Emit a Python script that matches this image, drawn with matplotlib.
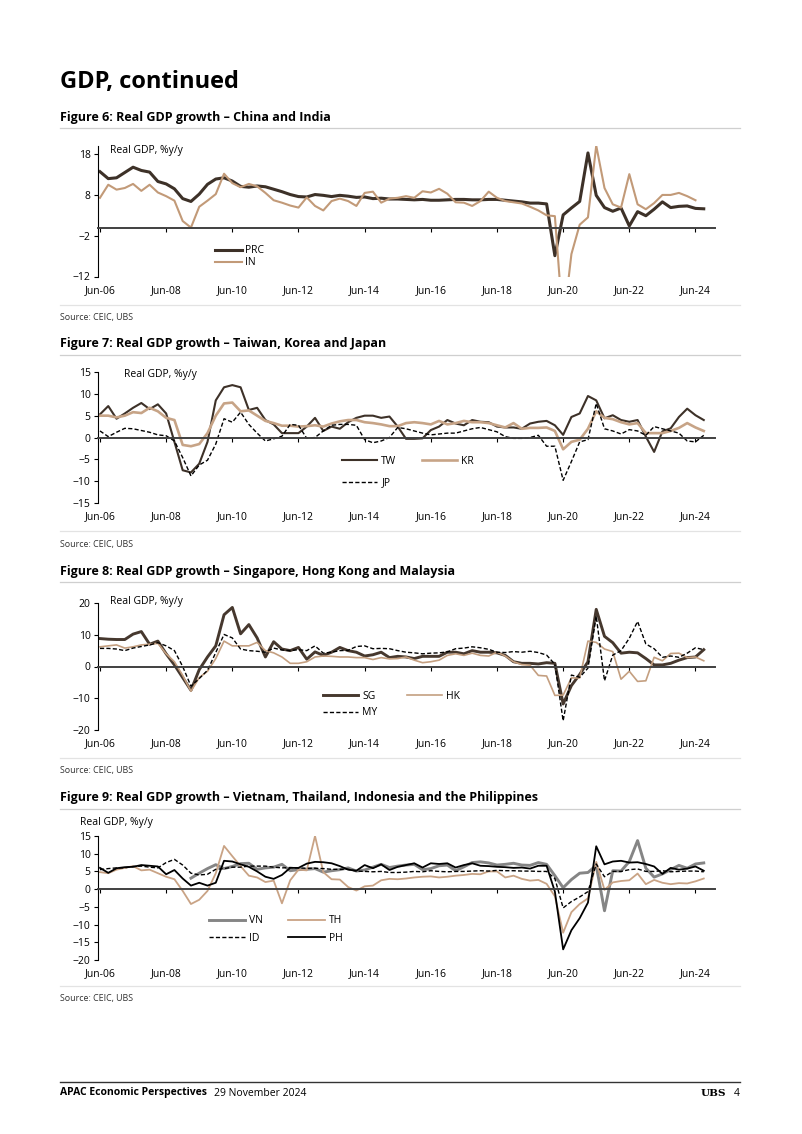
import numpy as np
import matplotlib
matplotlib.use("Agg")
import matplotlib.pyplot as plt

plt.rcParams['font.family'] = ['Open Sans', 'DejaVu Sans']

nan = np.nan

# quarterly, Jun-06 (2006Q2) .. Sep-24 (2024Q3)
tick_labels = ['Jun-06', 'Jun-08', 'Jun-10', 'Jun-12', 'Jun-14',
               'Jun-16', 'Jun-18', 'Jun-20', 'Jun-22', 'Jun-24']

# Figure 6
prc = [13.7, 12.0, 12.2,
       13.5, 14.8, 14.0, 13.6,
       11.3, 10.7, 9.5, 7.1,
       6.4, 8.2, 10.6, 11.9,
       12.2, 11.4, 10.1, 9.9,
       10.2, 10.0, 9.4, 8.8,
       8.1, 7.6, 7.5, 8.1,
       7.9, 7.6, 7.9, 7.7,
       7.4, 7.5, 7.1, 7.2,
       7.0, 7.0, 6.9, 6.8,
       6.9, 6.7, 6.7, 6.8,
       6.9, 6.9, 6.8, 6.8,
       6.9, 6.9, 6.7, 6.5,
       6.3, 6.0, 6.0, 5.8,
       -6.9, 3.1, 4.8, 6.4,
       18.3, 7.9, 4.9, 4.0,
       4.8, 0.4, 3.9, 2.9,
       4.5, 6.3, 4.9, 5.2,
       5.3, 4.7, 4.6]
ind = [7.3, 10.5, 9.3,
       9.7, 10.7, 9.0, 10.5,
       8.6, 7.7, 6.6, 1.6,
       0.0, 5.1, 6.6, 8.2,
       13.2, 10.9, 9.9, 10.7,
       10.1, 8.5, 6.7, 6.1,
       5.4, 4.9, 7.4, 5.3,
       4.2, 6.5, 7.1, 6.5,
       5.3, 8.5, 8.8, 6.1,
       7.1, 7.3, 7.7, 7.3,
       8.9, 8.6, 9.5, 8.3,
       6.2, 6.1, 5.3, 6.5,
       8.8, 7.3, 6.5, 6.2,
       5.9, 5.1, 4.2, 3.0,
       2.8, -24.0, -6.5, 0.7,
       2.5, 20.1, 9.7, 5.7,
       4.9, 13.1, 5.7, 4.5,
       6.0, 8.0, 8.0, 8.5,
       7.7, 6.7, nan]

# Figure 7
tw = [5.3, 7.2, 4.3,
      5.5, 6.8, 7.9, 6.5,
      7.6, 5.5, -1.0, -7.5,
      -8.0, -6.0, -1.0, 8.5,
      11.5, 12.0, 11.5, 6.3,
      6.8, 4.0, 3.0, 1.0,
      1.0, 1.0, 2.5, 4.5,
      1.5, 2.5, 2.0, 3.5,
      4.5, 5.0, 5.0, 4.5,
      4.8, 2.5, -0.3, -0.3,
      -0.2, 1.7, 2.5, 4.0,
      3.2, 2.8, 4.0, 3.6,
      3.5, 2.5, 2.3, 2.3,
      2.0, 3.2, 3.6, 3.8,
      2.8, 0.6, 4.7, 5.5,
      9.5, 8.5, 4.4, 5.1,
      4.0, 3.6, 4.0, 0.2,
      -3.3, 1.4, 2.1, 4.7,
      6.6, 5.1, 4.0]
kr = [5.0, 5.0, 4.6,
      5.0, 5.8, 5.6, 6.8,
      6.0, 4.5, 4.0, -1.7,
      -2.0, -1.5, 1.0, 5.0,
      7.8, 8.0, 6.0, 6.2,
      5.0, 3.8, 3.3, 2.7,
      2.7, 2.5, 2.6, 2.8,
      2.5, 3.2, 3.7, 4.0,
      4.0, 3.5, 3.3, 3.0,
      2.6, 2.6, 3.3, 3.5,
      3.3, 3.0, 3.8, 3.0,
      3.3, 3.8, 3.5, 3.5,
      3.3, 2.8, 2.3, 3.3,
      2.0, 2.2, 2.2, 2.3,
      1.5, -2.7, -1.0, -0.5,
      2.0, 6.0, 4.5, 4.2,
      3.5, 3.0, 3.3, 1.0,
      1.0, 1.0, 1.5, 2.2,
      3.3, 2.3, 1.5]
jp = [1.5, 0.2, 1.2,
      2.1, 2.0, 1.6, 1.2,
      0.6, 0.4, -0.8, -4.6,
      -8.8, -6.3, -5.2, -1.5,
      4.3, 3.5, 5.8, 3.0,
      1.0, -0.8, -0.3, 0.3,
      3.0, 2.8, -0.2, 0.0,
      1.5, 2.8, 3.0, 3.0,
      2.8, -0.5, -1.2, -0.8,
      0.0, 2.3, 2.0, 1.5,
      1.0, 0.6, 0.8, 1.0,
      1.0, 1.5, 2.0, 2.3,
      1.8, 1.3, 0.2, -0.2,
      -0.2, 0.0, 0.5, -2.0,
      -2.0, -9.8, -5.5, -1.0,
      -0.5, 7.8, 2.0, 1.5,
      0.8, 1.8, 1.5, 0.5,
      2.5, 2.0, 1.5, 1.0,
      -0.8, -1.0, 0.5]

# Figure 8
sg = [8.8, 8.6, 8.5,
      8.5, 10.2, 11.0, 7.0,
      8.0, 4.0, 0.5, -3.5,
      -7.5, -1.0, 3.0, 6.5,
      16.3, 18.6, 10.3, 13.2,
      9.0, 3.0, 7.8, 5.5,
      5.0, 6.0, 2.3, 4.6,
      3.5, 4.5, 6.0, 5.0,
      4.5, 3.3, 3.7, 4.5,
      2.8, 3.2, 3.0, 2.5,
      3.2, 3.2, 3.2, 4.5,
      4.5, 4.0, 5.0, 4.5,
      4.5, 4.3, 3.5, 1.5,
      1.0, 1.0, 0.8, 1.2,
      1.0, -11.8, -6.0, -2.5,
      1.5, 18.0, 9.5, 7.5,
      4.2, 4.5, 4.3, 2.5,
      0.5, 0.5, 1.0, 2.0,
      2.8, 3.0, 5.3]
hk = [6.2, 6.5, 6.8,
      5.8, 6.2, 6.8, 7.0,
      7.3, 4.0, 1.5, -2.8,
      -7.8, -3.5, -1.5, 2.5,
      8.0, 6.5, 6.5, 6.5,
      7.6, 5.0, 4.3, 3.0,
      1.0, 1.0, 1.5, 3.0,
      3.3, 3.2, 3.0, 3.0,
      2.8, 2.8, 2.2, 2.8,
      2.4, 2.5, 3.0, 2.0,
      1.2, 1.5, 2.0, 3.5,
      4.0, 3.5, 4.2, 3.5,
      3.3, 4.5, 3.3, 1.5,
      0.6, 0.4, -2.8, -3.0,
      -9.1, -9.0, -3.6, -3.6,
      8.0, 7.6, 5.5, 4.7,
      -4.0, -1.5, -4.7, -4.5,
      2.9, 1.8, 4.1, 4.2,
      2.8, 3.0, 1.8]
my = [5.7, 5.7, 5.5,
      5.0, 5.8, 6.3, 6.8,
      7.5, 6.5, 5.0, 0.0,
      -6.2, -3.8, -1.2, 4.4,
      10.1, 9.0, 5.5, 5.0,
      4.8, 4.5, 5.8, 5.2,
      5.0, 5.3, 5.0, 6.5,
      4.2, 4.5, 5.0, 5.1,
      6.3, 6.5, 5.6, 5.7,
      5.6, 5.0, 4.5, 4.3,
      4.0, 4.2, 4.3, 4.6,
      5.6, 5.8, 6.2, 5.9,
      5.4, 4.5, 4.4, 4.7,
      4.5, 4.8, 4.4, 3.6,
      0.7, -17.1, -2.7, -3.4,
      -0.5, 15.9, -4.5, 3.6,
      5.0, 8.9, 14.2, 7.1,
      5.6, 2.9, 3.3, 2.9,
      4.2, 5.9, 5.3]

# Figure 9
vn = [nan, nan, nan,
      nan, nan, nan, nan,
      nan, nan, nan, nan,
      3.1, 4.5, 5.8, 6.9,
      5.8, 6.4, 7.2, 7.3,
      5.6, 6.0, 6.2, 7.0,
      5.2, 5.5, 5.6, 5.8,
      4.8, 5.2, 5.5, 6.0,
      5.1, 5.4, 6.2, 7.0,
      6.1, 6.5, 6.8, 7.0,
      5.5, 5.8, 6.6, 6.8,
      5.2, 6.3, 7.5, 7.7,
      7.4, 6.8, 7.0, 7.3,
      6.8, 6.7, 7.5, 7.0,
      3.8, 0.4, 2.7, 4.5,
      4.7, 6.7, -6.1, 5.2,
      5.1, 7.8, 13.7, 5.9,
      3.4, 4.3, 5.5, 6.7,
      5.9, 7.1, 7.4]
th = [4.8, 4.5, 5.5,
      6.0, 6.5, 5.3, 5.5,
      4.5, 3.5, 2.8, -0.5,
      -4.2, -3.0, -0.5, 4.5,
      12.2, 9.3, 6.5, 3.8,
      3.3, 2.0, 2.4, -4.0,
      2.5, 5.5, 5.3, 15.0,
      4.8, 2.8, 2.7, 0.6,
      -0.4, 0.8, 1.0, 2.5,
      2.9, 2.8, 3.0, 3.3,
      3.5, 3.6, 3.3, 3.5,
      3.8, 4.0, 4.3, 4.2,
      5.0, 5.0, 3.3, 3.8,
      2.9, 2.4, 2.6, 1.5,
      -2.0, -12.3, -6.5, -4.2,
      -2.6, 7.7, -0.2, 1.9,
      2.3, 2.5, 4.4, 1.4,
      2.6, 1.8, 1.4, 1.7,
      1.6, 2.2, 3.0]
idn = [5.5, 5.8, 6.0,
       6.0, 6.4, 6.5, 6.2,
       6.0, 7.5, 8.4, 6.8,
       4.5, 4.0, 4.2, 5.6,
       5.8, 6.2, 6.2, 6.5,
       6.5, 6.5, 6.2, 6.0,
       6.1, 6.0, 5.9, 5.9,
       5.8, 5.6, 5.6, 5.6,
       5.1, 5.0, 4.9, 5.0,
       4.7, 4.7, 4.8, 5.0,
       4.9, 5.2, 5.0, 4.9,
       5.0, 5.0, 5.1, 5.2,
       5.1, 5.3, 5.2, 5.2,
       5.1, 5.1, 5.0, 5.0,
       3.0, -5.3, -3.5, -2.2,
       -0.7, 7.1, 3.5, 5.0,
       5.0, 5.5, 5.7, 5.0,
       5.0, 5.2, 4.9, 5.0,
       5.1, 5.1, 4.9]
ph = [6.0, 4.6, 5.9,
      6.2, 6.3, 6.8, 6.6,
      6.4, 4.2, 5.4, 3.0,
      1.0, 1.8, 1.0, 1.8,
      8.0, 7.8, 7.0, 6.3,
      5.0, 3.5, 2.9, 4.0,
      6.0, 6.0, 7.2, 7.7,
      7.6, 7.3, 6.5, 5.5,
      5.2, 6.8, 5.9, 7.0,
      5.4, 6.3, 6.8, 7.3,
      6.1, 7.3, 7.1, 7.3,
      6.1, 6.8, 7.3, 6.6,
      6.5, 6.3, 6.2, 6.0,
      6.1, 5.8, 6.6, 6.6,
      -0.7, -17.0, -11.6, -8.2,
      -3.8, 12.1, 7.0, 7.8,
      8.0, 7.5, 7.6, 7.1,
      6.4, 4.3, 6.0, 5.5,
      5.8, 6.4, 5.2]

x = np.arange(len(prc))
tick_pos = np.arange(len(tick_labels)) * 8

W, H = 802, 1134
fig = plt.figure(figsize=(W / 100, H / 100), dpi=100)

tan = '#c29a78'
dark = '#3d3128'
FS = 7.5


def px_axes(left, top, right, bottom):
    return fig.add_axes([left / W, 1 - bottom / H, (right - left) / W, (bottom - top) / H])


def style(ax, ylim, yticks, label_xy):
    ax.set_xlim(-0.3, 74.3)
    ax.set_ylim(*ylim)
    ax.set_yticks(yticks)
    ax.tick_params(axis='y', direction='out', length=3, width=0.8, labelsize=FS, pad=2)
    for s in ['top', 'right']:
        ax.spines[s].set_visible(False)
    ax.spines['left'].set_linewidth(0.8)
    ax.spines['bottom'].set_position(('data', 0))
    ax.spines['bottom'].set_color('#404040')
    ax.spines['bottom'].set_linewidth(1.4)
    ax.set_xticks(tick_pos)
    ax.tick_params(axis='x', direction='out', length=3, width=0.8, labelbottom=False)
    sec = ax.secondary_xaxis('bottom')
    sec.set_xticks(tick_pos, tick_labels)
    sec.spines['bottom'].set_visible(False)
    sec.tick_params(length=0, pad=6, labelsize=FS)
    ax.patch.set_alpha(0)
    ax.text(label_xy[0], label_xy[1], 'Real GDP, %y/y', transform=fig.transFigure,
            fontsize=FS, va='center', ha='left')


def header(y_title, title, y_rule, y_rule2, y_source):
    fig.text(60 / W, 1 - y_title / H, title, fontsize=9, fontweight='bold', va='center')
    fig.add_artist(plt.Line2D([60 / W, 740 / W], [1 - y_rule / H] * 2, color='#cfcfcf', lw=0.9))
    fig.add_artist(plt.Line2D([60 / W, 740 / W], [1 - y_rule2 / H] * 2, color='#e3e3e3', lw=0.9))
    fig.text(60 / W, 1 - y_source / H, 'Source: CEIC, UBS', fontsize=6.4, color='#333333', va='center')


fig.text(60 / W, 1 - 82 / H, 'GDP, continued', fontsize=17, fontweight='bold', va='center')

# Figure 6
header(118, 'Figure 6: Real GDP growth \u2013 China and India', 128, 305, 317)
ax1 = px_axes(97.5, 146, 714.5, 276.5)
l1, = ax1.plot(x, prc, color=dark, lw=2.2, label='PRC')
l2, = ax1.plot(x, ind, color=tan, lw=1.5, label='IN')
style(ax1, (-12, 20), [-12, -2, 8, 18], (110 / W, 1 - 150 / H))
ax1.legend(handles=[l1, l2], loc='upper left', bbox_to_anchor=(0.19, 0.24), frameon=False,
           fontsize=FS, handlelength=2.6, handletextpad=0.3, labelspacing=0.1, borderpad=0,
           borderaxespad=0)

# Figure 7
header(344, 'Figure 7: Real GDP growth \u2013 Taiwan, Korea and Japan', 355, 531, 544)
ax2 = px_axes(97.5, 372, 714.5, 503)
t1, = ax2.plot(x, tw, color=dark, lw=1.5, label='TW')
t2, = ax2.plot(x, kr, color='#c7a487', lw=1.9, label='KR')
t3, = ax2.plot(x, jp, color='black', lw=1.0, ls=(0, (3, 1.6)), label='JP')
style(ax2, (-15, 15), [-15, -10, -5, 0, 5, 10, 15], (124 / W, 1 - 375 / H))
ax2.legend(handles=[t1, t3, t2], ncol=2, loc='upper left', bbox_to_anchor=(0.396, 0.36),
           frameon=False, fontsize=FS, handlelength=3.4, handletextpad=0.4, labelspacing=1.0,
           columnspacing=2.4, borderpad=0, borderaxespad=0)

# Figure 8
header(571, 'Figure 8: Real GDP growth \u2013 Singapore, Hong Kong and Malaysia', 582, 758, 771)
ax3 = px_axes(97.5, 603, 714.5, 730)
s1, = ax3.plot(x, sg, color='#46382e', lw=2.1, label='SG')
s2, = ax3.plot(x, hk, color='#c49f80', lw=1.2, label='HK')
s3, = ax3.plot(x, my, color='black', lw=1.0, ls=(0, (3, 1.6)), label='MY')
style(ax3, (-20, 20), [-20, -10, 0, 10, 20], (110 / W, 1 - 601 / H))
ax3.legend(handles=[s1, s3, s2], ncol=2, loc='upper left', bbox_to_anchor=(0.365, 0.31),
           frameon=False, fontsize=FS, handlelength=3.4, handletextpad=0.4, labelspacing=0.55,
           columnspacing=2.8, borderpad=0, borderaxespad=0)

# Figure 9
header(798, 'Figure 9: Real GDP growth \u2013 Vietnam, Thailand, Indonesia and the Philippines', 809, 986, 998)
ax4 = px_axes(97.5, 836, 714.5, 960)
v1, = ax4.plot(x, vn, color='#858585', lw=2.1, label='VN')
v2, = ax4.plot(x, th, color='#c9a385', lw=1.3, label='TH')
v3, = ax4.plot(x, idn, color='black', lw=1.0, ls=(0, (3, 1.6)), label='ID')
v4, = ax4.plot(x, ph, color='black', lw=1.3, label='PH')
style(ax4, (-20, 15), [-20, -15, -10, -5, 0, 5, 10, 15], (80 / W, 1 - 823 / H))
ax4.legend(handles=[v1, v3, v2, v4], ncol=2, loc='upper left', bbox_to_anchor=(0.18, 0.36),
           frameon=False, fontsize=FS, handlelength=3.5, handletextpad=0.4, labelspacing=0.65,
           columnspacing=2.4, borderpad=0, borderaxespad=0)

# footer
fig.add_artist(plt.Line2D([60 / W, 740 / W], [1 - 1082 / H] * 2, color='#333333', lw=1.0))
t = fig.text(60 / W, 1 - 1093 / H, 'APAC Economic Perspectives', fontsize=7.5, fontweight='bold', va='center')
fig.text(214 / W, 1 - 1093 / H, '29 November 2024', fontsize=7.5, va='center')
fig.text(726 / W, 1 - 1093 / H, 'UBS', fontsize=7.5, fontweight='bold', family='DejaVu Serif',
         va='center', ha='right')
fig.text(740 / W, 1 - 1093 / H, '4', fontsize=7.5, va='center', ha='right')

fig.savefig('out.png', dpi=100)
